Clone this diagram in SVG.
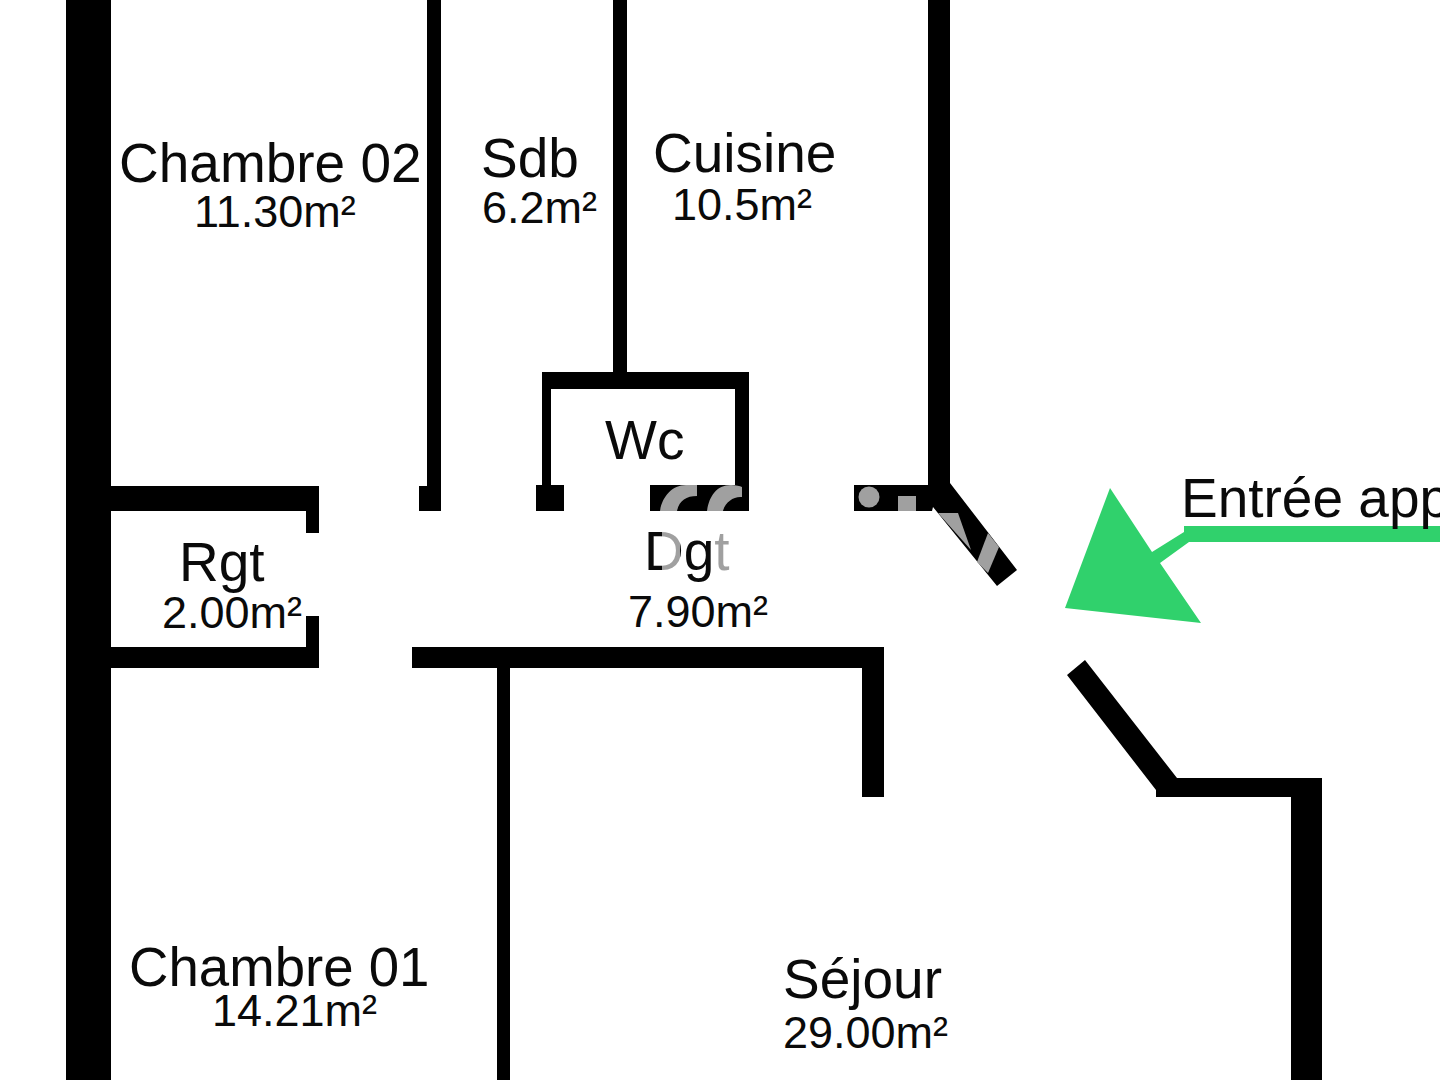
<svg xmlns="http://www.w3.org/2000/svg" width="1440" height="1080" viewBox="0 0 1440 1080">
<style>
.t{font-family:"Liberation Sans",Arial,sans-serif;fill:#0a0a0a}
.n{font-size:55px}
.a{font-size:45px}
.w{fill:#000}
.m{fill:#a0a0a0}
</style>
<defs>
<linearGradient id="dgt" gradientUnits="userSpaceOnUse" x1="640" y1="0" x2="735" y2="0">
<stop offset="0.23" stop-color="#0a0a0a"/><stop offset="0.23" stop-color="#a0a0a0"/>
<stop offset="0.42" stop-color="#a0a0a0"/><stop offset="0.42" stop-color="#0a0a0a"/>
<stop offset="0.76" stop-color="#0a0a0a"/><stop offset="0.76" stop-color="#a0a0a0"/>
</linearGradient>
</defs>
<rect width="1440" height="1080" fill="#fff"/>
<g id="walls" class="w">
<rect x="66" y="0" width="45" height="1080"/>
<rect x="427" y="0" width="14" height="490"/>
<rect x="419" y="486" width="22" height="25"/>
<rect x="613" y="0" width="14" height="378"/>
<path d="M542 372H749V511H650V485H735V389H551V485H564V511H536V485H542Z"/>
<path d="M928 0H950V483L1017 570L997 586L933 507L932 511H854V485H928Z"/>
<path d="M111 486H319V533H306V511H111Z"/>
<path d="M306 616H319V668H111V647H306Z"/>
<path d="M412 647H884V797H862V668H510V1080H497V668H412Z"/>
<path d="M1067 675L1085 660L1177 778H1322V1080H1291V797H1156V790Z"/>
</g>
<g id="watermark" class="m">
<path d="M660 511C662 497 672 485 686 485H697V496C686 496 679 501 677 511Z"/>
<path d="M707 511C709 497 716 485 731 485C736 485 740 486 742 487V497C734 496 725 502 723 511Z"/>
<circle cx="869" cy="497" r="10.5"/>
<rect x="898" y="496" width="18" height="15"/>
<path d="M938 513H958L971 550Z"/>
<path d="M988 533L999 547L988 573L977 562Z"/>
</g>
<g id="entry-arrow">
<path fill="#30d16c" d="M1110 488L1065 608L1201 623L1160 563L1189 542H1440V526H1184V532L1152 552Z"/>
</g>
<g id="labels">
<text class="t n" x="119" y="182">Chambre 02</text>
<text class="t a" x="194" y="227">11.30m²</text>
<text class="t n" x="481" y="177">Sdb</text>
<text class="t a" x="482" y="223">6.2m²</text>
<text class="t n" x="653" y="172">Cuisine</text>
<text class="t a" x="672" y="220">10.5m²</text>
<text class="t n" x="605" y="459">Wc</text>
<text class="n" x="644" y="570" font-family="Liberation Sans, Arial, sans-serif" fill="url(#dgt)">Dgt</text>
<text class="t a" x="628" y="627">7.90m²</text>
<text class="t n" x="179" y="581">Rgt</text>
<text class="t a" x="162" y="628">2.00m²</text>
<text class="t" font-size="54.6" x="129" y="986">Chambre 01</text>
<text class="t a" x="212" y="1026">14.21m²</text>
<text class="t n" x="783" y="998">Séjour</text>
<text class="t a" x="783" y="1048">29.00m²</text>
<text class="t n" x="1181" y="517">Entrée app</text>
</g>
</svg>
